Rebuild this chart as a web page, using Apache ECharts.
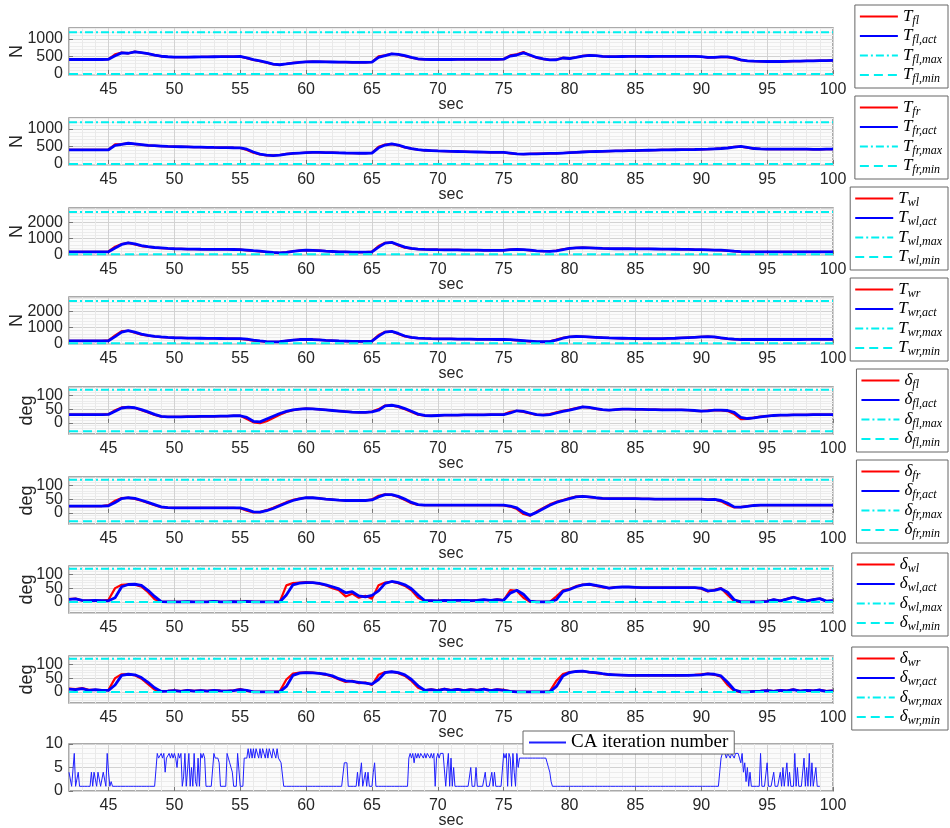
<!DOCTYPE html>
<html><head><meta charset="utf-8">
<script src="https://cdn.jsdelivr.net/npm/echarts@6/dist/echarts.min.js"></script>
<style>html,body{margin:0;padding:0;background:#fff}#c{width:950px;height:828px}</style>
</head><body><div id="c"></div>
<script>
// ---------------- data ----------------
const time = [42,42.5,43,43.5,44,44.5,45,45.5,46,46.5,
47,47.5,48,48.5,49,49.5,50,50.5,51,51.5,
52,52.5,53,53.5,54,54.5,55,55.5,56,56.5,
57,57.5,58,58.5,59,59.5,60,60.5,61,61.5,
62,62.5,63,63.5,64,64.5,65,65.5,66,66.5,
67,67.5,68,68.5,69,69.5,70,70.5,71,71.5,
72,72.5,73,73.5,74,74.5,75,75.5,76,76.5,
77,77.5,78,78.5,79,79.5,80,80.5,81,81.5,
82,82.5,83,83.5,84,84.5,85,85.5,86,86.5,
87,87.5,88,88.5,89,89.5,90,90.5,91,91.5,
92,92.5,93,93.5,94,94.5,95,95.5,96,96.5,
97,97.5,98,98.5,99,99.5,100];

const Tfl_cmd = [412,412,412,412,412,412,420,560,610,585,
635,605,575,535,500,488,480,478,480,483,
485,488,490,492,495,495,495,450,400,362,
322,275,262,290,315,333,345,350,348,345,
340,335,335,332,330,330,340,500,530,575,
555,510,462,425,413,412,412,412,412,415,
415,415,415,418,418,418,425,530,560,625,
525,460,425,400,410,458,442,475,515,530,
518,500,495,495,498,500,500,500,498,500,
500,500,500,500,500,498,490,468,472,485,
480,440,390,372,362,357,355,355,355,360,
365,368,370,372,378,382,385];
const Tfl_act = [412,412,412,412,412,412,418,520,600,590,
630,610,580,540,505,490,480,478,480,483,
485,488,490,492,495,495,498,460,410,370,
330,280,262,285,310,330,345,350,348,345,
340,335,335,332,330,330,335,470,520,570,
560,520,470,430,415,412,412,412,412,415,
415,415,415,418,418,418,420,510,540,600,
540,470,430,400,405,455,440,470,510,530,
520,500,495,495,498,500,500,500,498,500,
500,500,500,500,500,500,495,470,470,485,
485,460,400,375,365,358,355,355,355,360,
365,368,370,372,378,382,385];

const Tfr_cmd = [400,400,400,400,400,400,410,560,565,590,
565,548,528,518,508,500,495,490,485,480,
478,475,470,468,465,462,455,400,320,270,
245,242,255,285,302,312,322,330,330,325,
320,315,312,310,305,305,320,490,555,565,
530,470,435,405,388,378,370,365,360,355,
350,345,340,335,330,330,328,300,285,282,
287,292,297,300,302,312,322,332,342,350,
355,360,365,370,375,378,380,385,390,395,
400,402,405,408,410,412,415,422,432,445,
462,490,495,462,436,428,424,420,420,420,
420,420,420,418,418,420,420];
const Tfr_act = [400,400,400,400,400,400,405,530,560,590,
570,550,530,520,510,500,495,490,485,480,
478,475,470,468,465,462,460,420,340,280,
250,240,250,280,300,310,320,330,330,325,
320,315,312,310,305,305,310,460,540,570,
540,480,440,410,390,380,370,365,360,355,
350,345,340,335,330,330,330,310,290,280,
285,290,295,300,300,310,320,330,340,350,
355,360,365,370,375,378,380,385,390,395,
400,402,405,408,410,412,415,420,430,440,
455,480,500,470,440,430,425,420,420,420,
420,420,420,418,418,420,420];

const Twl_cmd = [150,150,150,150,150,150,180,480,650,720,
620,520,460,420,395,368,350,340,330,325,
320,318,315,312,310,305,295,255,210,180,
140,105,95,140,195,240,260,248,228,198,
178,158,150,140,140,140,170,520,720,740,
560,420,360,325,308,300,290,285,280,275,
270,265,260,255,250,250,260,300,310,290,
245,210,195,195,240,320,380,405,420,405,
385,368,358,350,350,350,345,340,340,335,
330,325,320,315,310,298,288,278,268,255,
225,185,165,158,150,150,150,150,150,150,
150,150,150,150,150,150,150];
const Twl_act = [150,150,150,150,150,150,160,400,620,720,
650,550,480,430,400,370,350,340,330,325,
320,318,315,312,310,305,300,270,230,200,
160,120,90,120,180,230,260,250,230,200,
180,160,150,140,140,140,150,450,700,750,
600,450,370,330,310,300,290,285,280,275,
270,265,260,255,250,250,250,290,310,300,
260,220,200,190,220,300,370,400,420,410,
390,370,360,350,350,350,345,340,340,335,
330,325,320,315,310,300,290,280,270,260,
240,200,170,160,150,150,150,150,150,150,
150,150,150,150,150,150,150];

const Twr_cmd = [150,150,150,150,150,150,190,500,760,790,
660,550,480,430,395,368,350,340,330,325,
320,315,310,305,300,295,280,230,175,135,
100,92,110,160,210,242,250,238,215,185,
165,148,140,130,130,130,160,520,720,740,
580,430,360,325,308,293,285,280,275,270,
265,260,255,250,245,240,238,220,185,155,
125,105,100,130,240,350,415,430,418,395,
375,355,338,328,318,310,305,300,300,300,
300,312,325,345,365,385,405,420,390,330,
285,250,240,240,240,240,240,240,240,240,
240,240,245,245,250,250,250];
const Twr_act = [150,150,150,150,150,150,160,420,700,800,
700,580,500,440,400,370,350,340,330,325,
320,315,310,305,300,295,290,260,200,150,
110,90,100,150,200,240,250,240,220,190,
170,150,140,130,130,130,140,450,700,750,
620,460,370,330,310,295,285,280,275,270,
265,260,255,250,245,240,240,230,200,170,
140,110,100,110,200,320,400,430,420,400,
380,360,340,330,320,310,305,300,300,300,
300,310,320,340,360,380,400,420,400,350,
300,260,240,240,240,240,240,240,240,240,
240,240,245,245,250,250,250];

const dfl_cmd = [30,30,30,30,30,30,32,46,56,57,
54,46,38,29,23,22,22,22,23,23,
24,24,24,25,25,26,26,14,2,-1,
6,18,30,40,46,50,52,51,49,47,
45,43,41,39,38,38,41,50,63,63,
58,50,40,30,26,26,27,28,28,28,
29,29,29,29,30,30,31,40,44,40,
34,29,29,32,38,44,48,54,58,55,
51,47,46,48,50,50,49,49,48,48,
47,47,47,47,46,44,43,45,46,45,
43,32,14,15,19,23,25,27,28,28,
29,29,29,30,30,30,30];
const dfl_act = [30,30,30,30,30,30,31,42,54,57,
55,48,40,31,24,22,22,22,23,23,
24,24,24,25,25,26,26,20,6,4,
14,24,34,42,47,50,52,51,49,47,
45,43,41,39,38,38,40,46,62,64,
60,52,42,32,27,26,27,28,28,28,
29,29,29,29,30,30,30,36,44,42,
36,30,28,30,36,42,46,52,58,56,
52,48,46,48,50,50,49,49,48,48,
47,47,47,47,46,45,43,44,46,46,
45,38,20,16,18,22,25,27,28,28,
29,29,29,30,30,30,30];

const dfr_cmd = [25,25,25,25,25,25,28,44,54,55,
51,44,36,28,21,19,18,18,18,18,
18,18,18,18,18,18,17,8,2,3,
10,19,29,39,47,52,55,55,53,50,
48,46,45,45,45,45,49,62,67,65,
58,47,35,29,28,28,28,28,28,28,
28,28,28,28,28,28,27,23,14,-4,
-10,5,18,31,40,47,54,59,60,57,
54,52,52,52,52,52,52,51,51,50,
50,50,50,50,50,50,50,48,49,42,
30,20,21,25,27,28,28,28,28,28,
28,28,28,28,28,28,28];
const dfr_act = [25,25,25,25,25,25,26,38,52,55,
53,46,38,30,22,19,18,18,18,18,
18,18,18,18,18,18,18,12,4,3,
8,16,26,36,45,51,55,55,53,50,
48,46,45,45,45,45,47,58,66,66,
60,50,38,30,28,28,28,28,28,28,
28,28,28,28,28,28,28,25,18,2,
-8,2,15,28,38,45,52,58,60,58,
55,53,52,52,52,52,52,51,51,50,
50,50,50,50,50,50,50,48,49,45,
35,22,21,24,27,28,28,28,28,28,
28,28,28,28,28,28,28];

const dwl_cmd = [10,12,5,5,6,5,8,50,62,64,
62,55,35,10,0,0,0,0,1,0,
0,0,3,0,0,1,0,3,0,0,
0,0,0,60,68,70,72,70,66,60,
50,42,20,30,15,22,12,60,70,73,
68,58,42,15,4,5,4,6,5,7,
6,5,7,8,6,9,7,43,40,15,
0,0,0,0,20,42,47,57,63,63,
58,53,50,54,54,54,53,52,52,52,
52,52,52,52,52,52,48,38,44,50,
25,3,0,0,0,0,3,9,4,11,
18,10,4,9,12,3,5];
const dwl_act = [9,11,6,5,6,5,4,15,55,63,
64,60,42,20,1,0,0,0,1,0,
0,0,2,0,0,1,0,2,0,0,
0,0,0,25,62,68,70,70,67,62,
55,47,33,37,22,18,24,40,67,74,
70,62,48,25,5,5,4,6,5,6,
6,5,6,8,6,8,6,32,42,28,
3,0,0,0,8,38,45,55,62,64,
60,55,50,53,54,54,53,52,52,52,
52,52,52,52,52,52,50,40,42,48,
35,8,0,0,0,0,2,8,4,10,
17,10,4,8,12,3,5];

const dwr_cmd = [12,10,14,8,8,7,8,50,64,64,
60,48,28,8,3,4,6,3,7,4,
6,4,7,5,4,6,10,4,0,0,
0,0,2,45,66,70,71,70,67,62,
55,45,36,40,32,34,25,62,72,73,
68,58,40,15,6,9,6,11,7,10,
6,9,7,11,6,9,8,2,0,0,
0,0,0,2,40,65,72,74,75,71,
68,65,62,62,61,60,60,60,60,60,
60,60,60,60,61,62,64,66,62,55,
25,4,0,1,3,4,6,3,7,5,
9,4,7,5,8,3,5];
const dwr_act = [10,8,12,6,8,6,6,25,60,64,
62,52,35,15,2,3,5,2,6,3,
5,3,6,4,3,5,8,6,0,0,
0,0,0,20,60,68,70,69,67,64,
58,48,40,38,35,32,28,45,70,73,
70,62,45,22,6,8,5,10,6,9,
5,8,6,10,5,8,6,2,0,0,
0,0,0,0,20,58,70,74,75,72,
70,66,63,62,61,60,60,60,60,60,
60,60,60,60,60,61,62,65,64,58,
35,8,0,0,2,3,5,2,6,4,
8,3,6,4,7,2,4];

// CA iteration number, sampled every 0.1 s starting at 42 s
const caStart = 42, caStep = 0.1;
const caIter = [
4,4,1,1,8,1,1,4,1,1,  1,1,1,1,1,1,1,4,1,4,  4,1,4,4,1,1,4,4,1,8,
4,1,2,1,1,1,1,1,1,1,  1,1,1,1,1,1,1,1,1,1,  1,1,1,1,1,1,1,1,1,1,
1,1,1,1,1,1,1,8,7,7,  8,7,8,4,7,7,8,7,8,7,  8,7,5,8,7,8,1,3,8,1,
1,8,1,5,1,8,2,1,7,1,  8,7,8,7,1,1,1,1,1,1,  8,7,7,7,6,1,1,1,1,1,
8,7,6,5,4,1,1,1,8,8,  1,1,1,7,7,7,9,7,9,7,  9,7,9,9,7,9,7,9,9,7,
9,7,9,9,7,9,9,7,9,7,  7,6,6,1,1,1,1,1,1,1,  1,1,1,1,1,1,1,1,1,1,
1,1,1,1,1,1,1,1,1,1,  1,1,1,1,1,1,1,1,1,1,  1,1,1,1,1,1,1,1,1,6,
6,6,1,1,1,1,1,1,1,4,  1,1,6,1,1,4,1,4,1,1,  1,4,6,1,1,1,1,1,1,1,
1,1,1,1,1,1,1,1,1,1,  1,1,1,1,1,1,1,1,7,8,  7,8,6,8,7,8,7,8,8,7,
8,7,8,8,7,8,7,8,1,7,  8,7,8,8,8,8,1,5,8,1,  7,1,5,1,1,1,1,1,1,1,
1,1,1,1,1,5,1,1,1,5,  1,1,1,1,1,1,4,1,1,1,  1,4,1,4,1,1,1,1,1,1,
8,7,8,1,8,7,1,8,4,1,  8,5,7,7,7,7,7,7,7,7,  7,7,7,7,7,7,7,7,7,7,
7,7,7,6,5,4,2,1,1,1,  1,1,1,1,1,1,1,1,1,1,  1,1,1,1,1,1,1,1,1,1,
1,1,1,1,1,1,1,1,1,1,  1,1,1,1,1,1,1,1,1,1,  1,1,1,1,1,1,1,1,1,1,
1,1,1,1,1,1,1,1,1,1,  1,1,1,1,1,1,1,1,1,1,  1,1,1,1,1,1,1,1,1,1,
1,1,1,1,1,1,1,1,1,1,  1,1,1,1,1,1,1,1,1,1,  1,1,1,1,1,1,1,1,1,1,
1,1,1,1,1,1,1,1,1,1,  1,1,1,1,4,7,8,8,8,7,  8,8,7,8,8,7,8,8,8,7,
6,8,4,6,2,5,1,4,1,1,  1,1,1,1,1,8,1,1,1,1,  6,1,1,1,1,4,1,1,1,1,
4,1,5,1,1,6,1,4,1,1,  1,8,1,5,1,1,1,1,7,1,  5,1,8,1,6,1,1,5,1,1,
1];

const panelSym = ['T','T','T','T','δ','δ','δ','δ'];
const panelSub = ['fl','fr','wl','wr','fl','fr','wl','wr'];
const cmdSeries = [Tfl_cmd,Tfr_cmd,Twl_cmd,Twr_cmd,dfl_cmd,dfr_cmd,dwl_cmd,dwr_cmd];
const actSeries = [Tfl_act,Tfr_act,Twl_act,Twr_act,dfl_act,dfr_act,dwl_act,dwr_act];
const limitMax = [1190,1190,2650,2650,120,120,120,120];
const limitMin = [0,0,0,0,-30,-30,0,0];
const yMin = [-30,-30,-40,-40,-40,-40,-40,-40];
const yMax = [1310,1310,2900,2900,130,130,130,130];
const yUnit = ['N','N','N','N','deg','deg','deg','deg'];
const caMin = 0, caMax = 10;
const xMin = 42, xMax = 100;

// ---------------- layout ----------------
const gridTop = [28,118,208,297,387,477,566,656,744];
const legendTop = [5,96,187,278,369,460,553,647];
const SANS = 'Liberation Sans, Arial, sans-serif';
const SERIF = 'Liberation Serif, Times New Roman, serif';
const RED = '#ff0000', BLUE = '#0000ff', CYAN = '#00f0f0';
const HIDE_SYMBOL = {color:'rgba(0,0,0,0)', borderColor:'rgba(0,0,0,0)', borderWidth:0, opacity:0};
const plainNum = v => String(v);

const grid = [], xAxis = [], yAxis = [], series = [], legend = [];
for (let k = 0; k < 9; k++) {
  grid.push({left:69, width:764, top:gridTop[k], height:47, show:true, containLabel:false,
    outerBoundsMode:'none',
    backgroundColor:'#fbfbfb', borderColor:'#8f8f8f', borderWidth:1.5});
  xAxis.push({gridIndex:k, type:'value', min:xMin, max:xMax, splitNumber:12,
    name:'sec', nameLocation:'middle', nameGap:22, nameMoveOverlap:false,
    nameTextStyle:{fontSize:16, color:'#262626', fontFamily:SANS},
    axisLine:{show:false},
    axisTick:{inside:true, length:4, lineStyle:{color:'#777'}},
    axisLabel:{fontSize:16, color:'#262626', margin:7, fontFamily:SANS, showMinLabel:false, formatter:plainNum},
    splitLine:{lineStyle:{color:'#d2d2d2', width:1}},
    minorTick:{show:false, splitNumber:5},
    minorSplitLine:{show:true, lineStyle:{color:'#e9e9e9', width:1}}});
}
for (let k = 0; k < 8; k++) {
  const isN = yUnit[k] === 'N';
  yAxis.push({gridIndex:k, type:'value', min:yMin[k], max:yMax[k], splitNumber:3,
    name:yUnit[k], nameLocation:'middle', nameGap: isN ? 43 : 33, nameRotate:90, nameMoveOverlap:false,
    nameTextStyle:{fontSize:18, color:'#262626', fontFamily:SANS},
    axisLine:{show:false},
    axisTick:{inside:true, length:4, lineStyle:{color:'#777'}},
    axisLabel:{fontSize:16, color:'#262626', margin:6, fontFamily:SANS, showMinLabel:false, showMaxLabel:false, formatter:plainNum},
    splitLine:{lineStyle:{color:'#d2d2d2', width:1}},
    minorTick:{show:false, splitNumber:5},
    minorSplitLine:{show:true, lineStyle:{color:'#ececec', width:1}}});
  const base = panelSym[k] + '_' + panelSub[k];
  const names = [base, base + ',act', base + ',max', base + ',min'];
  series.push({type:'line', name:names[0], xAxisIndex:k, yAxisIndex:k, symbol:'none',
    data: time.map((t,i)=>[t, cmdSeries[k][i]]),
    lineStyle:{color:RED, width:2.2}, itemStyle:{color:RED}});
  series.push({type:'line', name:names[1], xAxisIndex:k, yAxisIndex:k, symbol:'none',
    data: time.map((t,i)=>[t, actSeries[k][i]]),
    lineStyle:{color:BLUE, width:2.8}, itemStyle:{color:BLUE}});
  series.push({type:'line', name:names[2], xAxisIndex:k, yAxisIndex:k, symbol:'none',
    data: [[xMin, limitMax[k]],[xMax, limitMax[k]]],
    lineStyle:{color:CYAN, width:2, type:[8,3,2,3]}, itemStyle:{color:CYAN}});
  series.push({type:'line', name:names[3], xAxisIndex:k, yAxisIndex:k, symbol:'none',
    data: [[xMin, limitMin[k]],[xMax, limitMin[k]]],
    lineStyle:{color:CYAN, width:2, type:[9,5]}, itemStyle:{color:CYAN}});
  legend.push({data:names, right:2, top:legendTop[k], orient:'vertical',
    selectedMode:false, itemWidth:38, itemHeight:10, itemGap:1,
    padding:[3,6,3,4], borderColor:'#666', borderWidth:1, backgroundColor:'#fff',
    itemStyle:HIDE_SYMBOL,
    formatter: n => { const p = n.split('_'); return '{m|' + p[0] + '}{s|' + p[1] + '}'; },
    textStyle:{rich:{
      m:{fontSize:17, fontFamily:SERIF, fontStyle:'italic', color:'#000', lineHeight:20},
      s:{fontSize:12, fontFamily:SERIF, fontStyle:'italic', color:'#000', lineHeight:10, verticalAlign:'bottom'}
    }}});
}
// CA panel
yAxis.push({gridIndex:8, type:'value', min:caMin, max:caMax, interval:5,
  axisLine:{show:false},
  axisTick:{inside:true, length:4, lineStyle:{color:'#777'}},
  axisLabel:{fontSize:16, color:'#262626', margin:6, fontFamily:SANS, formatter:plainNum},
  splitLine:{lineStyle:{color:'#d2d2d2', width:1}},
  minorTick:{show:false, splitNumber:5},
  minorSplitLine:{show:true, lineStyle:{color:'#ececec', width:1}}});
series.push({type:'line', name:'CA iteration number', xAxisIndex:8, yAxisIndex:8, symbol:'none',
  data: caIter.map((v,i)=>[caStart + i*caStep, v]),
  lineStyle:{color:'#1f1fff', width:1}, itemStyle:{color:'#1f1fff'}});
legend.push({data:['CA iteration number'], left:523, top:731, selectedMode:false,
  itemWidth:37, itemHeight:10, padding:[2,6,2,5], borderColor:'#666', borderWidth:1,
  itemStyle:HIDE_SYMBOL,
  backgroundColor:'#fff', textStyle:{fontSize:19, fontFamily:SERIF, color:'#000'}});

const chart = echarts.init(document.getElementById('c'));
chart.setOption({animation:false, backgroundColor:'#fff', grid, xAxis, yAxis, series, legend});
</script></body></html>
